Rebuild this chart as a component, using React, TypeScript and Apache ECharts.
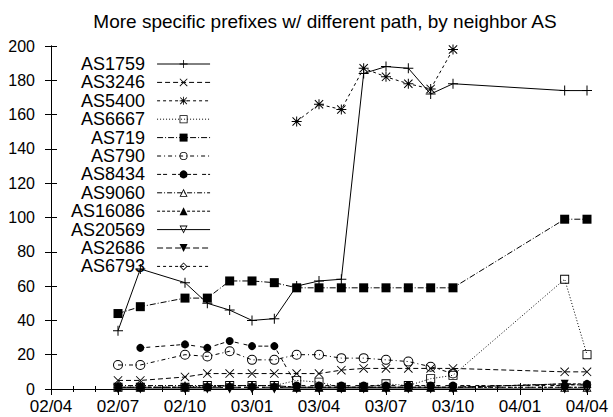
import React, { useEffect, useRef } from "react";
import * as echarts from "echarts";

const months = [
  "2002-07", "2002-08", "2002-10", "2002-11", "2002-12", "2003-01", "2003-02", "2003-03",
  "2003-04", "2003-05", "2003-06", "2003-07", "2003-08", "2003-09", "2003-10", "2004-03", "2004-04",
];
const tickLabels = ["02/04", "02/07", "02/10", "03/01", "03/04", "03/07", "03/10", "04/01", "04/04"];

const AS1759 = [34, 70, 62, 50, 46, 40, 41, 60, 63, 64, 184, 188, 187, 172, 178, 174, 174];
const AS3246 = [5, 5, 7, 9, 9, 9, 9, 9, 9, 11, 12, 12, 12, 12, 12, 10, 10];
const AS5400 = [null, null, null, null, null, null, null, 156, 166, 163, 187, 182, 178, 175, 198, null, null];
const AS6667 = [1, 1, 1, 2, 2, 2, 2, 5, 4, 1, 1, 3, 2, 6, 8, 64, 20];
const AS719 = [44, 48, 53, 53, 63, 63, 62, 59, 59, 59, 59, 59, 59, 59, 59, 99, 99];
const AS790 = [14, 14, 20, 19, 22, 17, 17, 20, 20, 18, 18, 17, 16, 13, 9, null, null];
const AS8434 = [null, 24, 26, 24, 28, 25, 25, 2, 2, 2, 2, 2, 2, 2, 2, 2, 3];
const AS9060 = [2, 2, 2, 2, 2, 2, 2, 1, 1, 1, 1, 1, 1, 1, 1, 1, 1];
const AS16086 = [1, 1, 1, 1, 2, 2, 2, 1, 1, 1, 1, 1, 1, 1, 1, 3, 3];
const AS20569 = [0, 0, 0, 0, 0, 0, 0, 0, 0, 0, 0, 0, 0, 0, 0, 0, 0];
const AS2686 = [1, 1, 1, 1, 1, 1, 1, 1, 1, 1, 1, 1, 1, 1, 1, 3, 2];
const AS6793 = [1, 1, 1, 1, 1, 1, 1, 1, 1, 1, 1, 1, 1, 1, 1, 1, 1];

const SYM = {
  plus: "path://M0,4.5h10v1h-10z M4.5,0h1v10h-1z",
  cross: "path://M0.7,0L10,9.3L9.3,10L0,0.7Z M9.3,0L10,0.7L0.7,10L0,9.3Z",
  star: "path://M0,4.5h10v1h-10z M4.5,0h1v10h-1z M1.2,0.5L9.5,8.8L8.8,9.5L0.5,1.2Z M8.8,0.5L9.5,1.2L1.2,9.5L0.5,8.8Z",
  openSquare: "path://M0,0h10v10h-10z M1,1v8h8v-8z",
  openCircle: "path://M5,0A5,5 0 1,1 5,10A5,5 0 1,1 5,0Z M5,1A4,4 0 1,0 5,9A4,4 0 1,0 5,1Z",
  openTri: "path://M5,0L10,9L0,9Z M5,2L1.7,8L8.3,8Z",
  openTriDown: "path://M0,0L10,0L5,9Z M1.7,1L5,7L8.3,1Z",
  openDiamond: "path://M5,0L10,5L5,10L0,5Z M5,1.4L1.4,5L5,8.6L8.6,5Z",
};

function monthIndex(s: string) {
  const [y, m] = s.split("-").map(Number);
  return (y - 2002) * 12 + (m - 4);
}

type Def = { name: string; values: (number | null)[]; symbol: string; size: number; dash: any; rotate?: number };

const defs: Def[] = [
  { name: "AS1759", values: AS1759, symbol: SYM.plus, size: 10, dash: "solid" },
  { name: "AS3246", values: AS3246, symbol: SYM.cross, size: 9, dash: [5, 3] },
  { name: "AS5400", values: AS5400, symbol: SYM.star, size: 10, dash: [3, 3] },
  { name: "AS6667", values: AS6667, symbol: SYM.openSquare, size: 9, dash: [1, 2] },
  { name: "AS719", values: AS719, symbol: "rect", size: 9, dash: [6, 2, 1, 2] },
  { name: "AS790", values: AS790, symbol: SYM.openCircle, size: 10, dash: [4, 3, 1, 3] },
  { name: "AS8434", values: AS8434, symbol: "circle", size: 8, dash: [4, 2, 4, 5] },
  { name: "AS9060", values: AS9060, symbol: SYM.openTri, size: 9, dash: [5, 2, 1, 2] },
  { name: "AS16086", values: AS16086, symbol: "triangle", size: 8, dash: [3, 2] },
  { name: "AS20569", values: AS20569, symbol: SYM.openTriDown, size: 9, dash: "solid" },
  { name: "AS2686", values: AS2686, symbol: "triangle", size: 8, dash: [6, 3], rotate: 180 },
  { name: "AS6793", values: AS6793, symbol: SYM.openDiamond, size: 9, dash: [3, 3] },
];

const FONT = "Liberation Sans, Arial, Helvetica, sans-serif";

export default function App() {
  const ref = useRef<HTMLDivElement>(null);
  useEffect(() => {
    if (!ref.current) return;
    const chart = echarts.init(ref.current, undefined, { renderer: "svg" });
    const series = defs.map((d) => ({
      name: d.name,
      type: "line",
      data: months.map((m, i) => [monthIndex(m), d.values[i]]).filter((p) => p[1] !== null),
      symbol: d.symbol,
      symbolSize: d.size,
      symbolRotate: d.rotate || 0,
      showAllSymbol: true,
      lineStyle: { color: "#000", width: 1, type: d.dash },
      itemStyle: { color: "#000", borderWidth: 0 },
      emphasis: { disabled: true },
    }));
    const axisCommon = {
      min: 0,
      axisLine: { show: true, lineStyle: { color: "#000", width: 1 } },
      splitLine: { show: false },
    };
    chart.setOption({
      animation: false,
      title: {
        text: "More specific prefixes w/ different path, by neighbor AS",
        left: 320,
        textAlign: "center",
        top: 7,
        textStyle: { fontFamily: FONT, fontSize: 19, fontWeight: "normal", color: "#000" },
      },
      legend: {
        orient: "vertical",
        align: "right",
        left: 66,
        top: 50,
        itemWidth: 53,
        itemHeight: 10,
        itemGap: 0.4,
        lineStyle: { width: 1 },
        textStyle: { fontFamily: FONT, fontSize: 18, color: "#000", lineHeight: 16, padding: [0, 7, 0, 0] },
        data: defs.map((d) => d.name),
      },
      grid: { left: 51, right: 26, top: 46, bottom: 28, containLabel: false },
      xAxis: [
        {
          ...axisCommon,
          type: "value",
          max: 24,
          interval: 3,
          position: "bottom",
          axisTick: { show: true, inside: true, length: 6, lineStyle: { color: "#000" } },
          minorTick: { show: true, splitNumber: 3, length: 3, lineStyle: { color: "#000" } },
          axisLabel: {
            margin: 9,
            fontFamily: FONT,
            fontSize: 17,
            color: "#000",
            formatter: (v: number) => tickLabels[Math.round(v / 3)] || "",
          },
        },
        {
          ...axisCommon,
          type: "value",
          max: 24,
          interval: 3,
          position: "top",
          axisTick: { show: true, inside: true, length: 6, lineStyle: { color: "#000" } },
          minorTick: { show: true, splitNumber: 3, length: 3, lineStyle: { color: "#000" } },
          axisLabel: { show: false },
        },
      ],
      yAxis: [
        {
          ...axisCommon,
          type: "value",
          max: 200,
          interval: 20,
          position: "left",
          axisTick: { show: true, inside: true, length: 6, lineStyle: { color: "#000" } },
          axisLabel: { margin: 16, fontFamily: FONT, fontSize: 16, color: "#000" },
        },
        {
          ...axisCommon,
          type: "value",
          max: 200,
          interval: 20,
          position: "right",
          axisTick: { show: true, inside: true, length: 6, lineStyle: { color: "#000" } },
          axisLabel: { show: false },
        },
      ],
      series,
    });
    return () => chart.dispose();
  }, []);
  return <div ref={ref} style={{ position: "fixed", left: 0, top: 0, width: 613, height: 417, background: "#fff" }} />;
}
